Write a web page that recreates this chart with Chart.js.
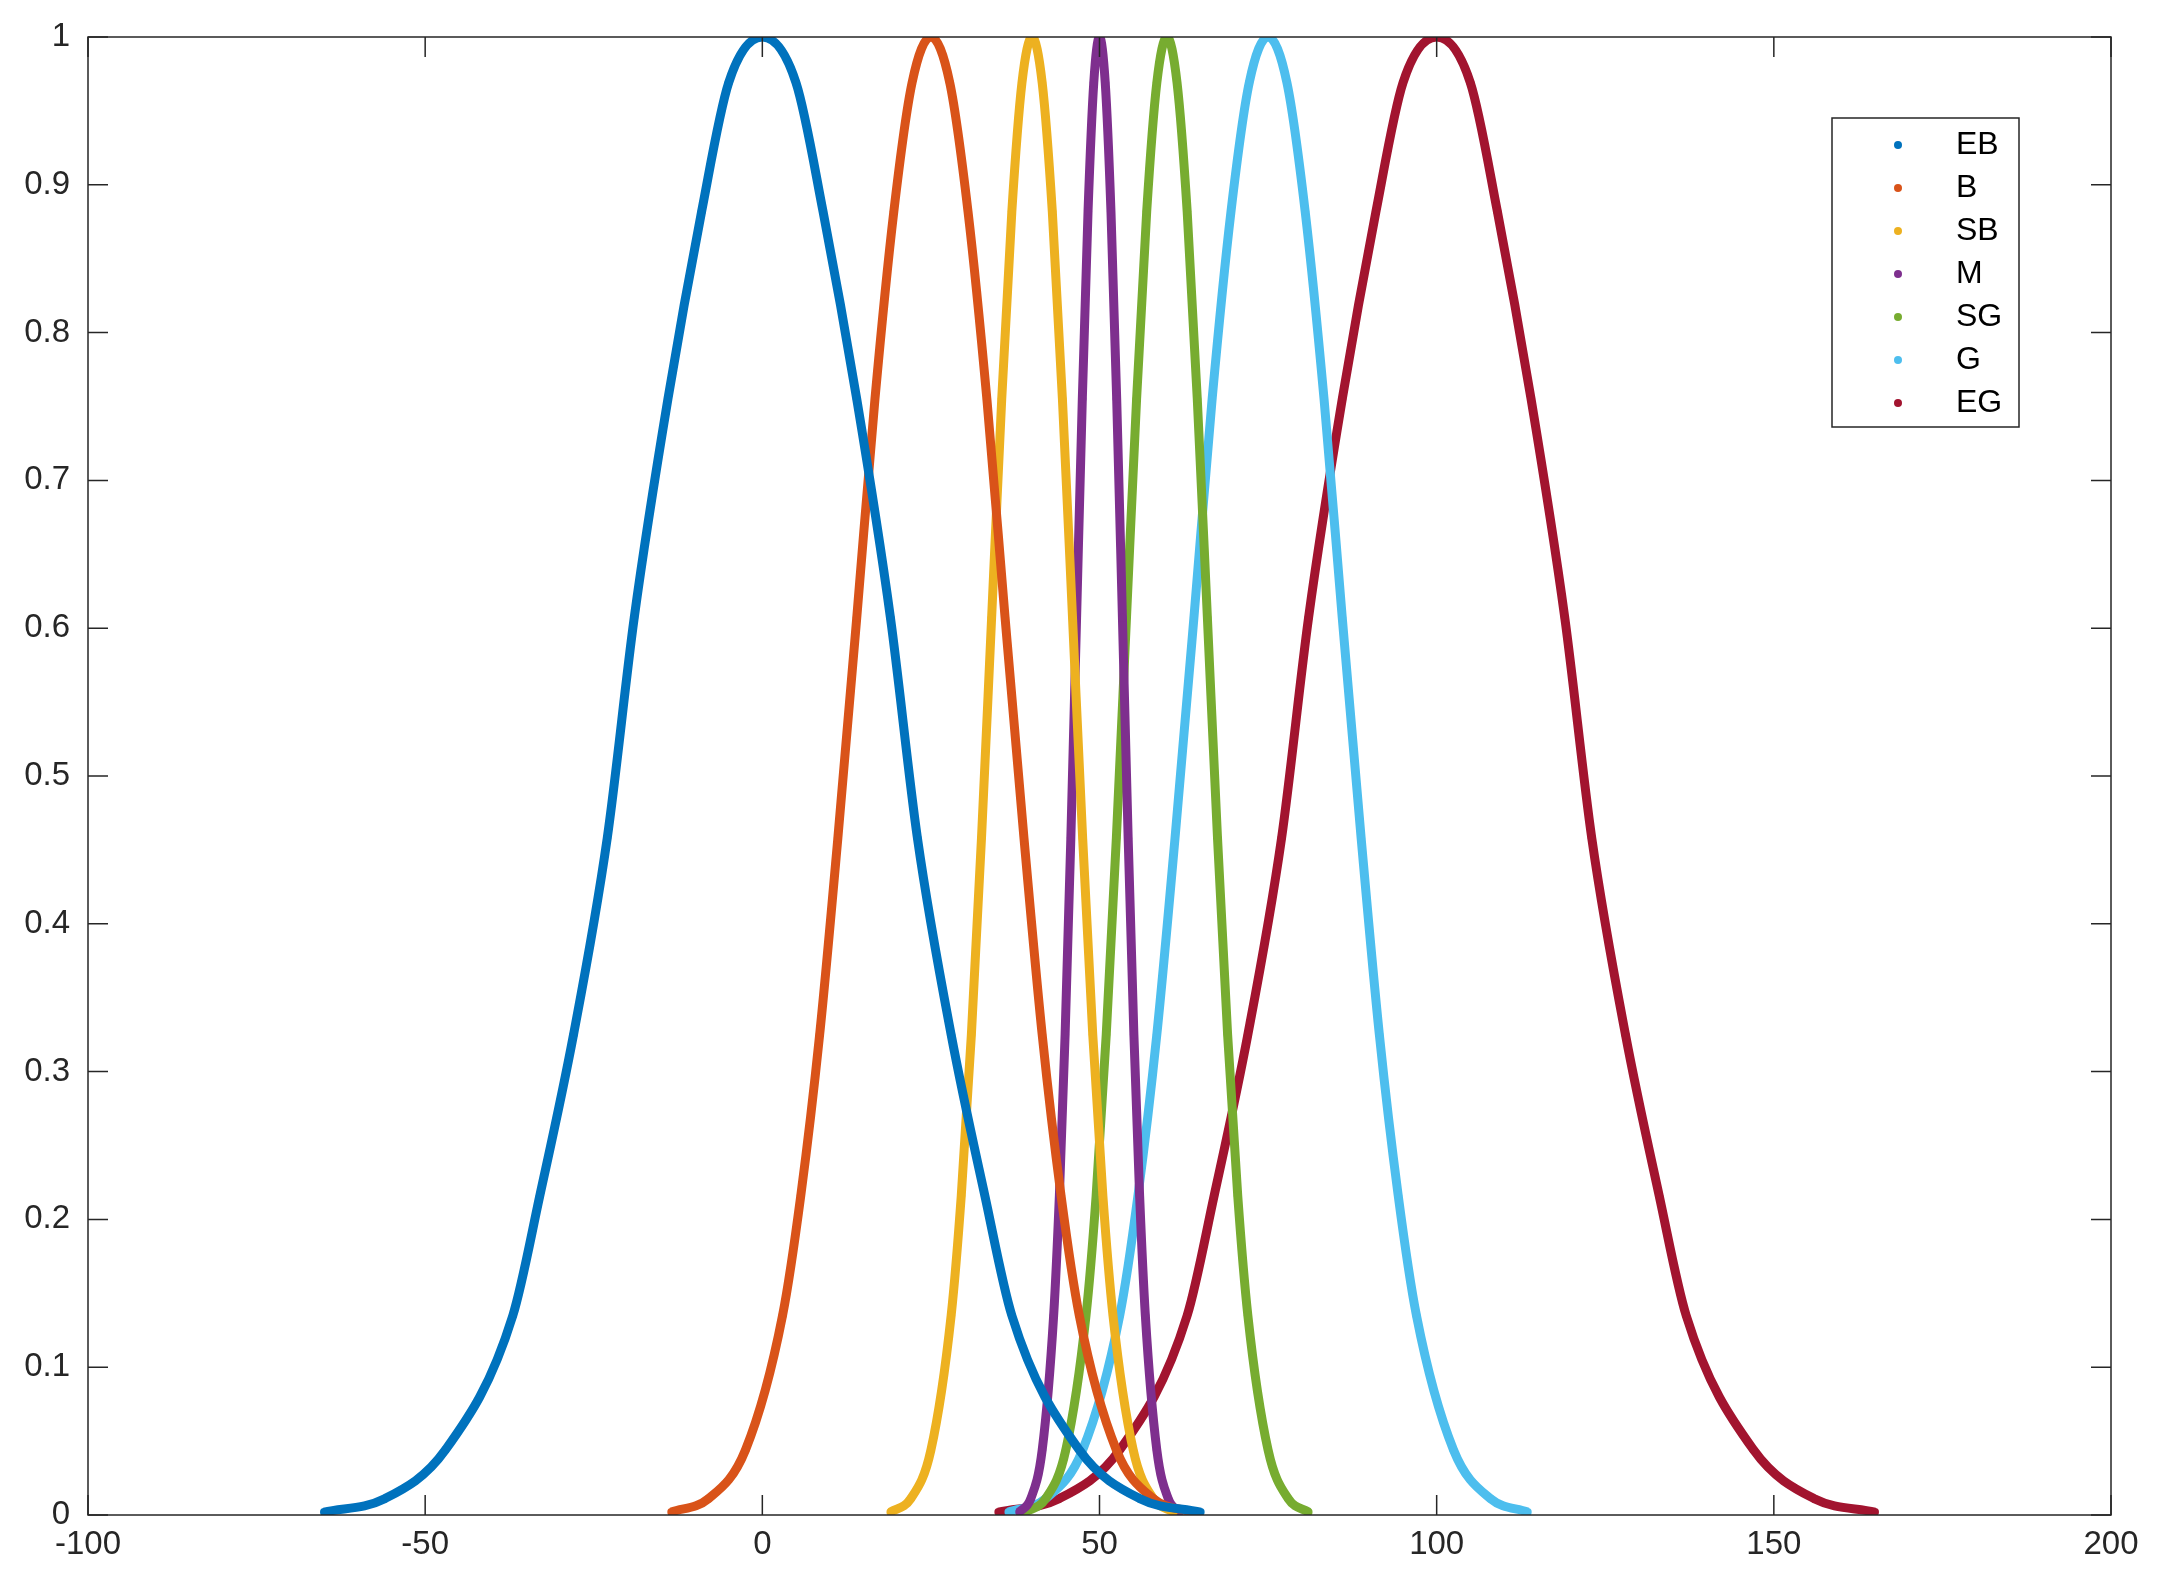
<!DOCTYPE html>
<html><head><meta charset="utf-8">
<script src="https://cdn.jsdelivr.net/npm/chart.js@4"></script>
<style>html,body{margin:0;padding:0;background:#fff}#w{width:2168px;height:1579px}</style>
</head><body><div id="w"><canvas id="c"></canvas></div>
<script>
const seriesNames = ["EB","B","SB","M","SG","G","EG"];
const seriesColors = ["#0072BD","#D95319","#EDB120","#7E2F8E","#77AC30","#4DBEEE","#A2142F"];
const yProfile = [0.002,0.011,0.044,0.135,0.216,0.325,0.458,0.607,0.755,0.882,0.969,1,0.969,0.882,0.755,0.607,0.458,0.325,0.216,0.135,0.044,0.011,0.002];
const ebX = [-65,-56,-47,-37,-33,-28,-23,-19,-14,-9,-5,0,5,9,14,19,23,28,33,37,47,56,65];
const bX  = [-13.5,-8,-2.5,3,5.7,8.5,11.2,14,16.7,19.5,22.2,25,27.8,30.5,33.3,36,38.8,41.5,44.3,47,52.5,58,63.5];
const sbX = [19,22,25,28,29.5,31,32.5,34,35.5,37,38.5,40,41.5,43,44.5,46,47.5,49,50.5,52,55,58,61];
const mX  = [38.1,39.8,41.5,43.2,44.05,44.9,45.75,46.6,47.45,48.3,49.15,50,50.85,51.7,52.55,53.4,54.25,55.1,55.95,56.8,58.5,60.2,61.9];
const sgX = [39,42,45,48,49.5,51,52.5,54,55.5,57,58.5,60,61.5,63,64.5,66,67.5,69,70.5,72,75,78,81];
const gX  = [36.5,42,47.5,53,55.7,58.5,61.2,64,66.7,69.5,72.2,75,77.8,80.5,83.3,86,88.8,91.5,94.3,97,102.5,108,113.5];
const egX = [35,44,53,63,67,72,77,81,86,91,95,100,105,109,114,119,123,128,133,137,147,156,165];
const xTicks = [-100,-50,0,50,100,150,200];
const yTicks = [0,0.1,0.2,0.3,0.4,0.5,0.6,0.7,0.8,0.9,1];
const allX = [ebX,bX,sbX,mX,sgX,gX,egX];

const FONT = '"Liberation Sans", Arial, sans-serif';
const datasets = allX.map((xs,i)=>({
  label: seriesNames[i],
  data: xs.map((x,j)=>({x:x,y:yProfile[j]})),
  showLine:true, borderColor:seriesColors[i], backgroundColor:seriesColors[i],
  borderWidth:9, pointRadius:4, pointBorderWidth:0, cubicInterpolationMode:'monotone'
}));

const boxPlugin = {
  id:'box',
  afterDraw(chart){
    const {ctx, chartArea:a, scales:{x,y}} = chart;
    ctx.save();
    ctx.strokeStyle='#262626'; ctx.lineWidth=1.5;
    ctx.strokeRect(a.left,a.top,a.right-a.left,a.bottom-a.top);
    ctx.beginPath();
    const tl=20;
    xTicks.forEach(v=>{const p=x.getPixelForValue(v);ctx.moveTo(p,a.bottom);ctx.lineTo(p,a.bottom-tl);ctx.moveTo(p,a.top);ctx.lineTo(p,a.top+tl);});
    yTicks.forEach(v=>{const p=y.getPixelForValue(v);ctx.moveTo(a.left,p);ctx.lineTo(a.left+tl,p);ctx.moveTo(a.right,p);ctx.lineTo(a.right-tl,p);});
    ctx.stroke();
    const lx=1832, ly=118, lw=187, lh=309;
    ctx.fillStyle='#fff'; ctx.fillRect(lx,ly,lw,lh);
    ctx.strokeRect(lx,ly,lw,lh);
    ctx.font='32px '+FONT; ctx.textBaseline='middle';
    seriesNames.forEach((n,i)=>{
      const cy=ly+27+i*43;
      ctx.fillStyle=seriesColors[i];
      ctx.beginPath();ctx.arc(lx+66,cy,4,0,Math.PI*2);ctx.fill();
      ctx.fillStyle='#000'; ctx.fillText(n,lx+124,cy);
    });
    ctx.restore();
  }
};

new Chart(document.getElementById('c'),{
  type:'scatter',
  data:{datasets},
  options:{
    responsive:true, maintainAspectRatio:false, animation:false,
    layout:{padding:{top:37,right:57,left:0,bottom:0}},
    plugins:{legend:{display:false},tooltip:{enabled:false}},
    scales:{
      x:{type:'linear',min:-100,max:200,
        afterBuildTicks(s){s.ticks=xTicks.map(v=>({value:v}));},
        afterFit(s){s.height=64;},
        grid:{display:false}, border:{display:false},
        ticks:{color:'#262626',font:{size:33,family:FONT},padding:2,maxRotation:0,callback:v=>String(v)}},
      y:{type:'linear',min:0,max:1,
        afterBuildTicks(s){s.ticks=yTicks.map(v=>({value:v}));},
        afterFit(s){s.width=88;},
        grid:{display:false}, border:{display:false},
        ticks:{color:'#262626',font:{size:33,family:FONT},padding:10,callback:v=>String(Math.round(v*10)/10)}}
    }
  },
  plugins:[boxPlugin]
});
</script></body></html>
